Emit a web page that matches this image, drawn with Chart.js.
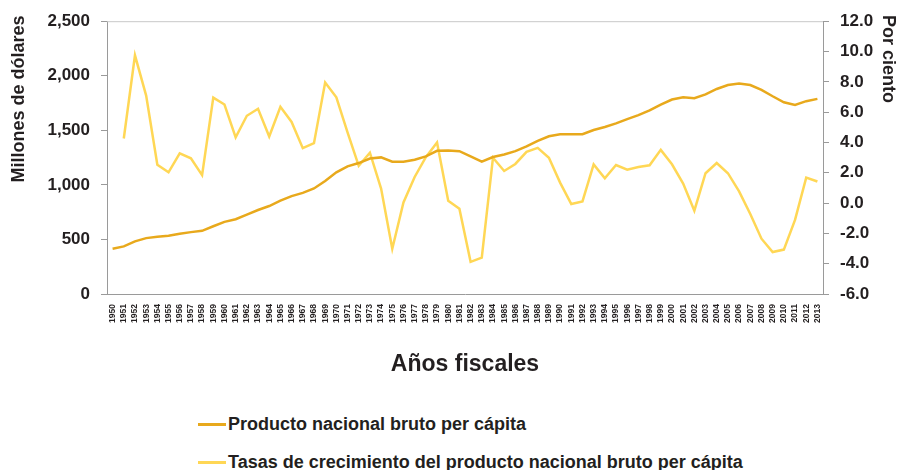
<!DOCTYPE html>
<html>
<head>
<meta charset="utf-8">
<script src="https://cdn.jsdelivr.net/npm/chart.js@4.4.1/dist/chart.umd.min.js"></script>
<style>
  html, body { margin: 0; padding: 0; background: #fff; }
  body { width: 899px; height: 470px; position: relative; overflow: hidden; font-family: "Liberation Sans", Arial, sans-serif; }
  #wrap { position: absolute; left: 0; top: 0; width: 899px; height: 390px; }
  .legend { position: absolute; left: 198px; height: 22px; line-height: 22px; font-weight: bold; font-size: 18px; color: #231f20; display: flex; align-items: center; }
  .legend i { display: inline-block; width: 28px; height: 3px; margin-right: 2px; }
</style>
</head>
<body>
<div id="wrap"><canvas id="chart"></canvas></div>
<div class="legend" style="top:413px"><i style="background:#e8a91c"></i>Producto nacional bruto per cápita</div>
<div class="legend" style="top:451px"><i style="background:#ffd755"></i>Tasas de crecimiento del producto nacional bruto per cápita</div>

<script>
// ─── Data ─────────────────────────────────────────────────────────────────────
const years = [];
for (let y = 1950; y <= 2013; y++) years.push(String(y));

// PNB per cápita (millones de dólares)
const pnbPerCapita = [
  415, 436, 482, 512, 524, 533, 552, 567, 579, 621,
  661, 685, 727, 770, 806, 855, 897, 927, 967, 1036,
  1115, 1170, 1200, 1242, 1252, 1212, 1212, 1230, 1261, 1312,
  1315, 1309, 1261, 1212, 1255, 1279, 1309, 1352, 1403, 1445,
  1464, 1464, 1464, 1503, 1530, 1564, 1603, 1639, 1682, 1736,
  1782, 1803, 1794, 1830, 1879, 1915, 1930, 1915, 1870, 1812,
  1757, 1733, 1767, 1788,
];

// Tasas de crecimiento (por ciento)
const tasasCrecimiento = [
  null, 4.26, 9.75, 7.09, 2.53, 2.03, 3.28, 2.95, 1.84, 6.96,
  6.50, 4.34, 5.76, 6.22, 4.39, 6.35, 5.35, 3.62, 3.95, 7.96,
  6.98, 4.67, 2.46, 3.32, 0.96, -3.01, 0.04, 1.72, 3.03, 4.00,
  0.15, -0.37, -3.88, -3.60, 2.99, 2.12, 2.58, 3.38, 3.64, 2.99,
  1.35, -0.06, 0.11, 2.55, 1.64, 2.51, 2.20, 2.38, 2.49, 3.51,
  2.56, 1.29, -0.50, 1.97, 2.64, 1.97, 0.77, -0.72, -2.35, -3.23,
  -3.07, -1.11, 1.68, 1.42,
];

const leftTicks = [0, 500, 1000, 1500, 2000, 2500];
const rightTicks = [-6, -4, -2, 0, 2, 4, 6, 8, 10, 12];

// ─── Chart ────────────────────────────────────────────────────────────────────
const FONT = '"Liberation Sans", Arial, sans-serif';
const TEXT = '#231f20';
const AXIS = '#9a9a9a';

// top border of the plot area + vertical axis titles (sit high, not centred)
const extras = {
  id: 'extras',
  afterDraw(chart) {
    const { ctx, chartArea } = chart;
    ctx.save();
    ctx.strokeStyle = '#c8c8c8';
    ctx.lineWidth = 1;
    ctx.beginPath();
    ctx.moveTo(chartArea.left, chartArea.top + 0.5);
    ctx.lineTo(chartArea.right, chartArea.top + 0.5);
    ctx.stroke();

    ctx.fillStyle = TEXT;
    ctx.font = `bold 18px ${FONT}`;
    ctx.textAlign = 'center';
    ctx.textBaseline = 'middle';

    ctx.save();
    ctx.translate(19, 99);
    ctx.rotate(-Math.PI / 2);
    ctx.fillText('Millones de dólares', 0, 0);
    ctx.restore();

    ctx.save();
    ctx.translate(888, 59);
    ctx.rotate(Math.PI / 2);
    ctx.fillText('Por ciento', 0, 0);
    ctx.restore();

    ctx.restore();
  },
};

new Chart(document.getElementById('chart').getContext('2d'), {
  type: 'line',
  data: {
    labels: years,
    datasets: [
      {
        label: 'Producto nacional bruto per cápita',
        data: pnbPerCapita,
        yAxisID: 'y',
        borderColor: '#e8a91c',
        borderWidth: 2.5,
        pointRadius: 0,
        tension: 0,
      },
      {
        label: 'Tasas de crecimiento del producto nacional bruto per cápita',
        data: tasasCrecimiento,
        yAxisID: 'y1',
        borderColor: '#ffd755',
        borderWidth: 2.5,
        pointRadius: 0,
        tension: 0,
      },
    ],
  },
  options: {
    responsive: true, maintainAspectRatio: false,
    animation: false,
    layout: { padding: { top: 19, left: 0, right: 0, bottom: 0 } },
    plugins: { legend: { display: false }, tooltip: { enabled: false } },
    scales: {
      x: {
        offset: true,
        grid: { display: false },
        border: { display: true, color: AXIS },
        ticks: {
          autoSkip: false, minRotation: 90, maxRotation: 90, padding: 2,
          color: TEXT, font: { family: FONT, size: 8.5, weight: 'bold' },
        },
        title: {
          display: true, text: 'Años fiscales', color: TEXT,
          font: { family: FONT, size: 23, weight: 'bold' },
          padding: { top: 0, bottom: 12 },
        },
        afterFit(scale) { scale.height = 96; },
      },
      y: {
        position: 'left',
        min: 0, max: 2500,
        afterBuildTicks(scale) { scale.ticks = leftTicks.map(v => ({ value: v })); },
        grid: { drawOnChartArea: false, color: AXIS, tickLength: 6 },
        border: { display: true, color: AXIS },
        ticks: {
          color: TEXT, padding: 11,
          font: { family: FONT, size: 17, weight: 'bold' },
          callback: v => v.toLocaleString('en-US'),
        },
        afterFit(scale) { scale.width = 107; },
      },
      y1: {
        position: 'right',
        min: -6, max: 12,
        afterBuildTicks(scale) { scale.ticks = rightTicks.map(v => ({ value: v })); },
        grid: { drawOnChartArea: false, color: AXIS, tickLength: 6 },
        border: { display: true, color: AXIS },
        ticks: {
          color: TEXT, padding: 11,
          font: { family: FONT, size: 17, weight: 'bold' },
          callback: v => v.toFixed(1),
        },
        afterFit(scale) { scale.width = 76; },
      },
    },
  },
  plugins: [extras],
});
</script>
</body>
</html>
